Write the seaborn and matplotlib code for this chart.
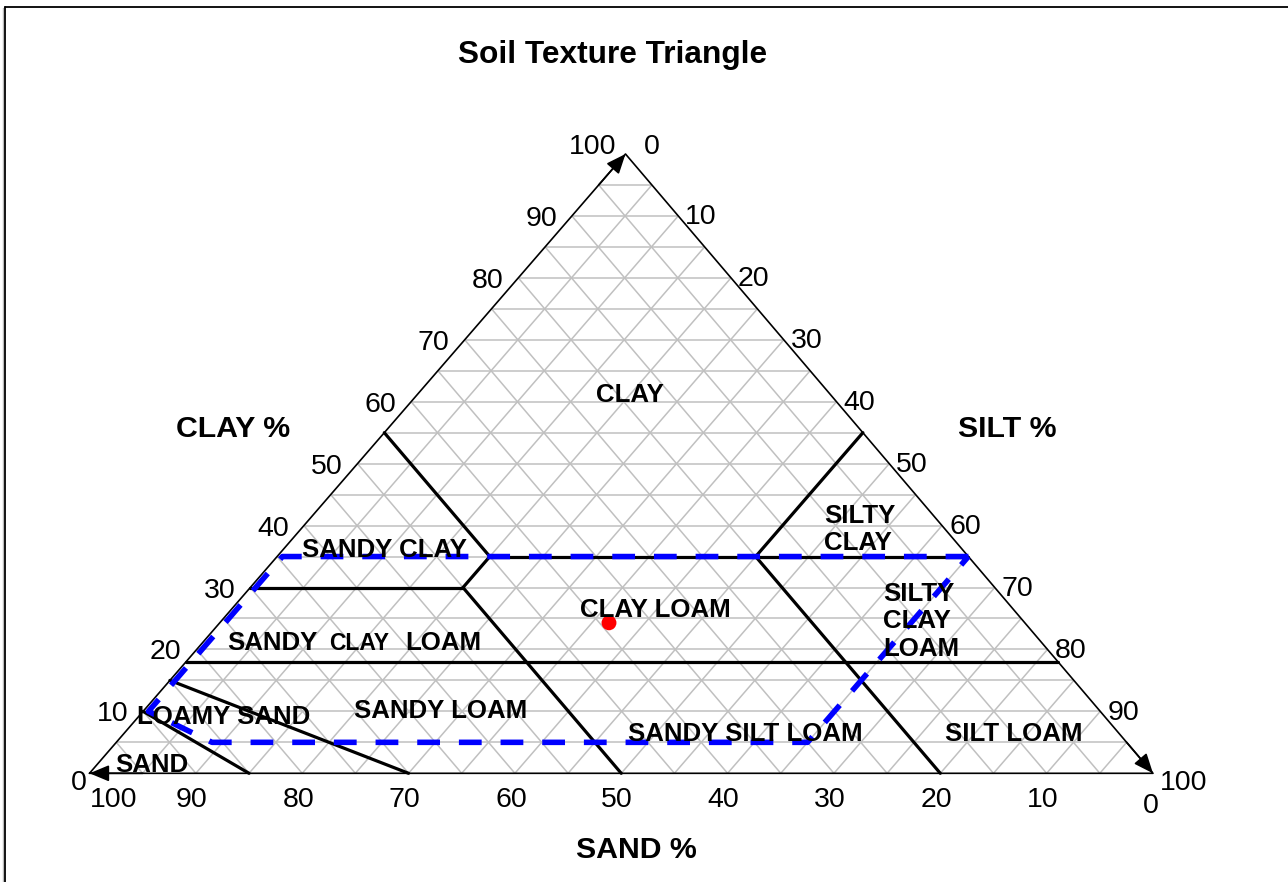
import numpy as np
import pandas as pd
import matplotlib
matplotlib.use("Agg")
import matplotlib.pyplot as plt
from matplotlib import transforms
from matplotlib.lines import Line2D
import seaborn as sns

# ---------------- data ----------------
title = "Soil Texture Triangle"
axis_titles = ["CLAY %", "SILT %", "SAND %"]
tick_values = [0, 10, 20, 30, 40, 50, 60, 70, 80, 90, 100]
grid_levels = [5, 10, 15, 20, 25, 30, 35, 40, 45, 50, 55, 60, 65, 70, 75, 80, 85, 90, 95]

# class boundary segments, endpoints as (sand, silt, clay) %
seg_id   = [0, 0, 1, 1, 2, 2, 3, 3, 4, 4, 5, 5, 6, 6, 7, 7, 8, 8, 9, 9]
seg_sand = [45, 0, 45, 45, 45, 50, 70, 50, 50, 50, 82, 0, 85, 70, 90, 85, 0, 20, 20, 20]
seg_silt = [20, 65, 0, 20, 20, 20, 0, 20, 20, 50, 0, 82, 0, 30, 0, 15, 45, 45, 45, 80]
seg_clay = [35, 35, 55, 35, 35, 30, 30, 30, 30, 0, 18, 18, 15, 0, 10, 0, 55, 35, 35, 0]

# highlighted (dashed blue) zone
zone_sand = [0, 64.5, 89.5, 86, 30, 0]
zone_silt = [65, 0.5, 0.5, 9, 65, 65]
zone_clay = [35, 35, 10, 5, 5, 35]

# sample point
sample_sand = [39.1]
sample_silt = [36.6]
sample_clay = [24.3]

class_names = ["CLAY", "SANDY CLAY", "SILTY\nCLAY", "CLAY LOAM", "SILTY\nCLAY\nLOAM",
               "SANDY CLAY LOAM", "SANDY LOAM", "LOAMY SAND", "SAND",
               "SANDY SILT LOAM", "SILT LOAM"]

# ---------------- setup ----------------
W, H = 1288, 882
sns.set_theme(style="white")
plt.rcParams["font.family"] = ["Liberation Sans", "DejaVu Sans"]

fig = plt.figure(figsize=(W / 100, H / 100), dpi=100)
fig.patch.set_facecolor("white")
ax = fig.add_axes([89.5 / W, (H - 773.3) / H, 1063.5 / W, 619.3 / H])
ax.set_xlim(0, 100)
ax.set_ylim(0, 100)
ax.axis("off")

SKEW = 0.504


def to_xy(sand, silt, clay):
    sand = np.asarray(sand, float)
    silt = np.asarray(silt, float)
    clay = np.asarray(clay, float)
    tot = sand + silt + clay
    silt = silt / tot * 100
    clay = clay / tot * 100
    return silt + clay * SKEW, clay


# grid
for k in grid_levels:
    for a, b in [((100 - k, 0, k), (0, 100 - k, k)),
                 ((k, 0, 100 - k), (k, 100 - k, 0)),
                 ((100 - k, k, 0), (0, k, 100 - k))]:
        x, y = to_xy([a[0], b[0]], [a[1], b[1]], [a[2], b[2]])
        ax.plot(x, y, color="#c0c0c0", lw=1.1, zorder=1, clip_on=False,
                solid_capstyle="butt")

# triangle edges
vx, vy = to_xy([100, 0, 0, 100], [0, 0, 100, 0], [0, 100, 0, 0])
ax.plot(vx, vy, color="black", lw=1.2, zorder=2, clip_on=False)

# arrows at corners
arrow_kw = dict(arrowstyle="-|>,head_length=0.6,head_width=0.25", mutation_scale=20,
                color="black", lw=1.2, shrinkA=0, shrinkB=0)
for tip, back in [((0, 0, 100), (5, 0, 95)),    # clay axis up the left edge
                  ((100, 0, 0), (95, 5, 0)),    # sand axis along the base to the left
                  ((0, 100, 0), (0, 95, 5))]:   # silt axis down the right edge
    tx, ty = to_xy(*tip)
    bx, by = to_xy(*back)
    ax.annotate("", xy=(float(tx), float(ty)), xytext=(float(bx), float(by)),
                arrowprops=arrow_kw, annotation_clip=False, zorder=3)

# boundaries
bx, by = to_xy(seg_sand, seg_silt, seg_clay)
df_seg = pd.DataFrame({"X": bx, "Y": by, "seg": seg_id})
sns.lineplot(data=df_seg, x="X", y="Y", units="seg", estimator=None, sort=False,
             color="black", lw=2.3, ax=ax, legend=False, zorder=3)
for ln in ax.lines:
    ln.set_clip_on(False)

# highlighted zone
zx, zy = to_xy(zone_sand, zone_silt, zone_clay)
ax.plot(zx, zy, color="#0000ff", lw=4.0, dashes=(4.1, 3.4), zorder=7, clip_on=False)

# sample
sx, sy = to_xy(sample_sand, sample_silt, sample_clay)
sns.scatterplot(x=sx, y=sy, s=115, color="red", edgecolor="none", ax=ax, zorder=6,
                legend=False)
ax.set_xlabel("")
ax.set_ylabel("")


# ---------------- text ----------------
def ftext(x_px, y_px, s, **kw):
    fig.text(x_px / W, 1 - y_px / H, s, color="black", **kw)


def dtext(X, Y, s, dx, dy, **kw):
    tr = transforms.offset_copy(ax.transData, fig=fig, x=dx, y=-dy, units="dots")
    ax.text(float(X), float(Y), s, transform=tr, clip_on=False, color="black", **kw)


ftext(613, 62.7, title, fontsize=22.8, fontweight="bold", ha="center", va="baseline")
ftext(233, 437, axis_titles[0], fontsize=21.8, fontweight="bold", ha="center", va="baseline")
ftext(1007.5, 437, axis_titles[1], fontsize=21.8, fontweight="bold", ha="center", va="baseline")
ftext(636, 858, axis_titles[2], fontsize=21.8, fontweight="bold", ha="center", va="baseline")

TICK_FS = 20.5
for v in tick_values:
    # clay (left edge)
    X, Y = to_xy(100 - v, 0, v)
    if v == 100:
        dx, dy = -9.5, 0
    elif v == 0:
        dx, dy = -3, 17
    else:
        dx, dy = -15, 10
    dtext(X, Y, str(v), dx, dy, fontsize=TICK_FS, ha="right", va="baseline")
    # silt (right edge)
    X, Y = to_xy(0, v, 100 - v)
    if v == 0:
        dx, dy = 18.5, 0
    elif v == 100:
        dx, dy = 7, 17
    else:
        dx, dy = 7, 8.5
    dtext(X, Y, str(v), dx, dy, fontsize=TICK_FS, ha="left", va="baseline")
    # sand (base)
    X, Y = to_xy(v, 100 - v, 0)
    if v == 100:
        dtext(X, Y, str(v), 0, 33.7, fontsize=TICK_FS, ha="left", va="baseline")
    elif v == 0:
        dtext(X, Y, str(v), -2, 40, fontsize=TICK_FS, ha="center", va="baseline")
    else:
        dtext(X, Y, str(v), -4, 33.7, fontsize=TICK_FS, ha="center", va="baseline")

# class labels (anchor x, first baseline y, alignment)
LAB_FS = 18.6
placement = {
    "CLAY": (630, 402, "center"),
    "SANDY CLAY": (384, 557, "center"),
    "SILTY\nCLAY": (824, 523, "left"),
    "CLAY LOAM": (655, 617, "center"),
    "SILTY\nCLAY\nLOAM": (883, 601, "left"),
    "SANDY LOAM": (441, 718, "center"),
    "LOAMY SAND": (224, 724, "center"),
    "SAND": (152, 772, "center"),
    "SANDY SILT LOAM": (745, 741, "center"),
    "SILT LOAM": (1014, 741, "center"),
}
for name in class_names:
    if name == "SANDY CLAY LOAM":
        a, b, c = name.split(" ")
        ftext(318, 650, a, fontsize=LAB_FS, fontweight="bold", ha="right", va="baseline", zorder=5)
        ftext(359, 650, b, fontsize=16.5, fontweight="bold", ha="center", va="baseline", zorder=5)
        ftext(405, 650, c, fontsize=LAB_FS, fontweight="bold", ha="left", va="baseline", zorder=5)
        continue
    x0, y0, ha = placement[name]
    for i, line in enumerate(name.split("\n")):
        ftext(x0, y0 + i * 27.5, line, fontsize=LAB_FS, fontweight="bold", ha=ha,
              va="baseline", zorder=5)

# figure border (top and left)
fig.add_artist(Line2D([2.5 / W, 2.5 / W], [0, 1 - 8 / H], transform=fig.transFigure,
                      color="#bbbbbb", lw=1.0))
fig.add_artist(Line2D([4.5 / W, 1], [1 - 7 / H, 1 - 7 / H], transform=fig.transFigure,
                      color="black", lw=1.3))
fig.add_artist(Line2D([4.5 / W, 4.5 / W], [0, 1 - 7 / H], transform=fig.transFigure,
                      color="black", lw=1.3))

fig.savefig("out.png", dpi=100, facecolor="white")
